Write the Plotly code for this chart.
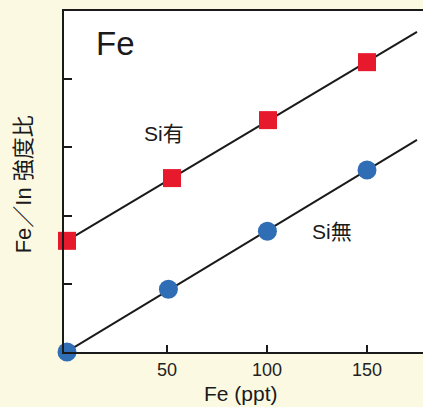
import numpy as np
import plotly.graph_objects as go

# Data
conc_si = [0, 52.5, 100.5, 150]          # Fe (ppt), with Si
ratio_si = [1.63, 2.55, 3.40, 4.25]      # Fe/In intensity ratio, with Si
conc_nosi = [0, 50.7, 100.2, 150]        # Fe (ppt), without Si
ratio_nosi = [0.0, 0.92, 1.77, 2.67]     # Fe/In intensity ratio, without Si
x_tick_vals = [50, 100, 150]
x_tick_text = ["50", "100", "150"]
y_tick_vals = [1, 2, 3, 4]
fit_x_max = 175

font_latin = "Liberation Sans, Arial, Noto Sans CJK JP, sans-serif"
red = "#e6192d"
blue = "#2f6db4"
line_col = "#1a1a1a"
cream = "#fcf9e3"

fig = go.Figure()

for xs, ys in [(conc_si, ratio_si), (conc_nosi, ratio_nosi)]:
    k, b = np.polyfit(xs, ys, 1)
    fx = np.array([0, fit_x_max])
    fig.add_trace(go.Scatter(x=fx, y=k * fx + b, mode="lines",
                             line=dict(color=line_col, width=2),
                             showlegend=False, hoverinfo="skip", cliponaxis=False))

fig.add_trace(go.Scatter(x=conc_si, y=ratio_si, mode="markers",
                         marker=dict(symbol="square", size=18, color=red),
                         showlegend=False, cliponaxis=False, name="Si有"))
fig.add_trace(go.Scatter(x=conc_nosi, y=ratio_nosi, mode="markers",
                         marker=dict(symbol="circle", size=19, color=blue),
                         showlegend=False, cliponaxis=False, name="Si無"))

ann = dict(showarrow=False, xanchor="center", yanchor="middle")
fig.update_layout(
    template="none",
    width=423, height=407,
    margin=dict(l=64, r=0, t=11, b=55, pad=0, autoexpand=False),
    paper_bgcolor=cream,
    plot_bgcolor="#ffffff",
    font=dict(family=font_latin, color="#222222"),
    xaxis=dict(range=[-1.5, 178], tickvals=x_tick_vals, ticktext=x_tick_text,
               ticks="inside", ticklen=7, tickwidth=2, tickcolor=line_col,
               showline=True, linecolor=line_col, linewidth=2, mirror=True,
               showgrid=False, zeroline=False, automargin=False,
               tickfont=dict(size=18, color="#222222")),
    yaxis=dict(range=[0, 5], tickvals=y_tick_vals, showticklabels=False,
               ticks="inside", ticklen=8, tickwidth=2, tickcolor=line_col,
               showline=True, linecolor=line_col, linewidth=2, mirror=False,
               showgrid=False, zeroline=False, automargin=False),
    annotations=[
        dict(x=24, y=4.53, xref="x", yref="y", text="Fe",
             font=dict(size=33, color="#1a1a1a"), **ann),
        dict(x=48.5, y=3.21, xref="x", yref="y", text="Si有",
             font=dict(size=21, color="#1a1a1a"), **ann),
        dict(x=132.5, y=1.76, xref="x", yref="y", text="Si無",
             font=dict(size=21, color="#1a1a1a"), **ann),
        dict(x=-0.113, y=0.493, xref="paper", yref="paper", text="Fe／In 強度比",
             textangle=-90, font=dict(size=22, color="#1a1a1a"), **ann),
        dict(x=0.493, y=-0.123, xref="paper", yref="paper", text="Fe (ppt)",
             font=dict(size=21, color="#1a1a1a"), **ann),
    ],
)

fig.write_html(
    "out.html",
    config={"displayModeBar": False, "staticPlot": True},
    post_script=(
        "document.documentElement.style.margin='0';"
        "document.body.style.margin='0';"
        "document.body.style.padding='0';"
        "document.body.style.overflow='hidden';"
        "document.body.style.background='" + cream + "';"
    ),
)
